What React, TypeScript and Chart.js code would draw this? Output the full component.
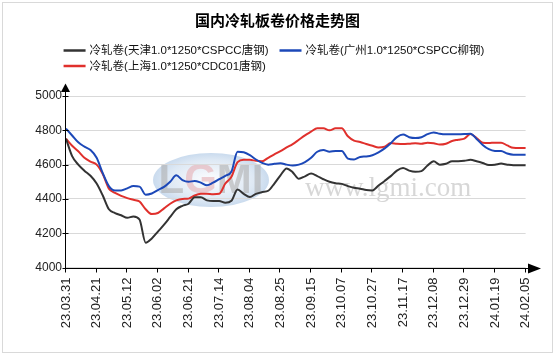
import React, { useEffect, useRef } from "react";
import { Chart, registerables } from "chart.js";

Chart.register(...registerables);

const TITLE = "国内冷轧板卷价格走势图";

const tickDates = [
  "23.03.31", "23.04.21", "23.05.12", "23.06.02", "23.06.21", "23.07.14",
  "23.08.04", "23.08.25", "23.09.15", "23.10.07", "23.10.27", "23.11.17",
  "23.12.08", "23.12.29", "24.01.19", "24.02.05",
];
const POINTS_PER_TICK = 5;

const seriesNames = [
  "冷轧卷(天津1.0*1250*CSPCC唐钢)",
  "冷轧卷(广州1.0*1250*CSPCC柳钢)",
  "冷轧卷(上海1.0*1250*CDC01唐钢)",
];
const seriesColors = ["#333333", "#1c48b8", "#e0302c"];

const tianjin = [
  4751, 4650, 4600, 4565, 4535, 4490, 4420, 4340, 4318, 4305,
  4290, 4298, 4280, 4145, 4170, 4210, 4250, 4295, 4340, 4360,
  4372, 4410, 4410, 4392, 4388, 4388, 4378, 4390, 4455, 4430,
  4412, 4430, 4440, 4448, 4490, 4538, 4578, 4555, 4518, 4532,
  4548, 4533, 4515, 4500, 4492, 4488, 4475, 4465, 4460, 4452,
  4450, 4478, 4505, 4533, 4565, 4580, 4565, 4558, 4562, 4595,
  4620, 4600, 4605, 4620, 4620, 4622, 4628, 4620, 4610, 4598,
  4600, 4606, 4600, 4596, 4596, 4596,
];
const guangzhou = [
  4810, 4770, 4730, 4705, 4685, 4640, 4550, 4475, 4450, 4450,
  4462, 4475, 4472, 4425, 4432, 4452, 4470, 4500, 4538, 4510,
  4500, 4505, 4495, 4480, 4495, 4515, 4535, 4560, 4675, 4672,
  4655, 4630, 4610, 4600, 4605, 4608, 4600, 4595, 4600, 4615,
  4640, 4675, 4685, 4675, 4680, 4680, 4635, 4630, 4645, 4648,
  4655, 4672, 4695, 4725, 4760, 4775, 4760, 4755, 4760, 4778,
  4788, 4780, 4777, 4777, 4777, 4778, 4780, 4750, 4715, 4690,
  4680, 4679, 4665, 4658, 4658, 4658,
];
const shanghai = [
  4751, 4710, 4678, 4640, 4618, 4600, 4545, 4460, 4435, 4418,
  4405, 4395, 4385, 4340, 4312, 4318, 4345, 4372, 4392, 4400,
  4402, 4420, 4430, 4431, 4428, 4430, 4490, 4530, 4615, 4628,
  4628, 4622, 4620, 4640, 4660, 4679, 4700, 4720, 4745, 4771,
  4792, 4812, 4812, 4800, 4812, 4812, 4765, 4740, 4732, 4720,
  4710, 4700, 4705, 4726, 4722, 4720, 4722, 4725, 4722, 4728,
  4725, 4717, 4722, 4738, 4745, 4752, 4778, 4755, 4728, 4726,
  4728, 4728, 4712, 4698, 4697, 4697,
];

const Y_MIN = 4000;
const Y_MAX = 5000;
const Y_STEP = 200;

const labels = tianjin.map((_, i) =>
  i % POINTS_PER_TICK === 0 ? tickDates[i / POINTS_PER_TICK] ?? "" : ""
);

const LATIN_FONT = '"Liberation Sans", Arial, "Noto Sans CJK SC", sans-serif';

const decorPlugin = {
  id: "decor",
  beforeDraw(chart: any) {
    const ctx = chart.ctx as CanvasRenderingContext2D;
    ctx.save();
    ctx.fillStyle = "#ffffff";
    ctx.fillRect(0, 0, chart.width, chart.height);
    ctx.strokeStyle = "#d9d9d9";
    ctx.lineWidth = 1;
    ctx.strokeRect(2.5, 2.5, chart.width - 5, chart.height - 5);

    // LGMI logo watermark
    const cx = 211, cy = 180;
    ctx.save();
    ctx.translate(cx, cy);
    ctx.scale(1, 27 / 58);
    const g = ctx.createRadialGradient(0, 0, 10, 0, 0, 58);
    g.addColorStop(0, "rgba(245,248,252,0.9)");
    g.addColorStop(0.7, "rgba(218,230,243,0.9)");
    g.addColorStop(1, "rgba(196,215,236,0.9)");
    ctx.fillStyle = g;
    ctx.beginPath();
    ctx.arc(0, 0, 58, 0, Math.PI * 2);
    ctx.fill();
    ctx.restore();
    ctx.font = 'bold 42px "Liberation Sans", Arial, sans-serif';
    ctx.textBaseline = "middle";
    ctx.textAlign = "left";
    const letters = ["L", "G", "M", "I"];
    const widths = letters.map((l) => ctx.measureText(l).width);
    let x = cx - widths.reduce((a, b) => a + b, 0) / 2;
    letters.forEach((l, i) => {
      ctx.fillStyle = l === "G" ? "rgba(230,175,180,0.6)" : "rgba(175,175,175,0.6)";
      ctx.fillText(l, x, cy + 1);
      x += widths[i];
    });

    // www.lgmi.com watermark
    ctx.font = '27px "Liberation Serif", "DejaVu Serif", serif';
    ctx.fillStyle = "rgba(205,205,205,0.8)";
    ctx.textBaseline = "alphabetic";
    ctx.fillText("www.lgmi.com", 305, 196);
    ctx.restore();
  },
  afterDraw(chart: any) {
    const ctx = chart.ctx as CanvasRenderingContext2D;
    const ca = chart.chartArea;
    const xs = chart.scales.x;
    const ys = chart.scales.y;
    ctx.save();
    ctx.strokeStyle = "#000";
    ctx.fillStyle = "#000";
    ctx.lineWidth = 1;

    const ax = Math.round(ca.left) - 0.5;
    const ay = Math.round(ca.bottom) + 0.5;
    // y axis
    ctx.beginPath();
    ctx.moveTo(ax, ay);
    ctx.lineTo(ax, ca.top - 6);
    ctx.stroke();
    ctx.beginPath();
    ctx.moveTo(ax - 4.5, ca.top - 4);
    ctx.lineTo(ax + 4.5, ca.top - 4);
    ctx.lineTo(ax, ca.top - 12.5);
    ctx.closePath();
    ctx.fill();
    // x axis
    ctx.beginPath();
    ctx.moveTo(ax, ay);
    ctx.lineTo(532, ay);
    ctx.stroke();
    ctx.beginPath();
    ctx.moveTo(528, ay - 5);
    ctx.lineTo(528, ay + 5);
    ctx.lineTo(541, ay);
    ctx.closePath();
    ctx.fill();
    // y ticks
    ys.ticks.forEach((t: any) => {
      const p = Math.round(ys.getPixelForValue(t.value)) + 0.5;
      ctx.beginPath();
      ctx.moveTo(ax - 3, p);
      ctx.lineTo(ax + 3, p);
      ctx.stroke();
    });
    // x ticks
    xs.ticks.forEach((t: any) => {
      const p = Math.round(xs.getPixelForValue(t.value)) - 0.5;
      ctx.beginPath();
      ctx.moveTo(p, ay);
      ctx.lineTo(p, ay + 4);
      ctx.stroke();
    });

    // title
    ctx.font = 'bold 15px "Noto Sans CJK SC", sans-serif';
    ctx.textAlign = "center";
    ctx.textBaseline = "middle";
    ctx.fillStyle = "#000";
    ctx.fillText(TITLE, 277.5, 20);

    // legend
    ctx.font = '11.5px ' + LATIN_FONT;
    ctx.textAlign = "left";
    const lineW = 22, gapText = 4, gapItem = 11;
    const w = seriesNames.map((n) => ctx.measureText(n).width);
    const row1 = lineW + gapText + w[0] + gapItem + lineW + gapText + w[1];
    const startX = 274 - row1 / 2;
    const positions = [
      { x: startX, y: 50.5 },
      { x: startX + lineW + gapText + w[0] + gapItem, y: 50.5 },
      { x: startX, y: 66 },
    ];
    chart.data.datasets.forEach((ds: any, i: number) => {
      const p = positions[i];
      ctx.strokeStyle = ds.borderColor;
      ctx.lineWidth = 2.5;
      ctx.beginPath();
      ctx.moveTo(p.x, p.y);
      ctx.lineTo(p.x + lineW, p.y);
      ctx.stroke();
      ctx.fillStyle = "#111";
      ctx.fillText(ds.label, p.x + lineW + gapText, p.y + 0.5);
    });
    ctx.restore();
  },
};

export default function App() {
  const ref = useRef<HTMLCanvasElement>(null);
  useEffect(() => {
    if (!ref.current) return;
    const series = [tianjin, guangzhou, shanghai];
    const chart = new Chart(ref.current, {
      type: "line",
      data: {
        labels,
        datasets: series.map((d, i) => ({
          label: seriesNames[i],
          data: d,
          borderColor: seriesColors[i],
          backgroundColor: seriesColors[i],
          borderWidth: 2,
          pointRadius: 0,
          cubicInterpolationMode: "monotone" as const,
          fill: false,
        })),
      },
      options: {
        responsive: false,
        animation: false,
        layout: { padding: { top: 96, right: 29.4, left: 0, bottom: 0 } },
        plugins: {
          legend: { display: false },
          title: { display: false },
          tooltip: { enabled: false },
        },
        scales: {
          x: {
            type: "category",
            offset: false,
            grid: { display: false, drawTicks: false },
            border: { display: false },
            afterBuildTicks: (scale: any) => {
              scale.ticks = scale.ticks.filter((t: any) => labels[t.value] !== "");
            },
            afterFit: (scale: any) => {
              scale.height = 87.4;
            },
            ticks: {
              autoSkip: false,
              minRotation: 90,
              maxRotation: 90,
              padding: 10,
              color: "#222",
              font: { family: LATIN_FONT, size: 13 },
            },
          },
          y: {
            min: Y_MIN,
            max: Y_MAX,
            grid: { color: "#d9d9d9", drawTicks: false, lineWidth: 1 },
            border: { display: false },
            afterFit: (scale: any) => {
              scale.width = 66;
            },
            ticks: {
              stepSize: Y_STEP,
              padding: 4,
              color: "#222",
              font: { family: LATIN_FONT, size: 12 },
              callback: (v: any) => String(v),
            },
          },
        },
      },
      plugins: [decorPlugin],
    });
    return () => chart.destroy();
  }, []);

  return (
    <div style={{ position: "absolute", left: 0, top: 0, width: 555, height: 355 }}>
      <canvas ref={ref} width={555} height={355} />
    </div>
  );
}
